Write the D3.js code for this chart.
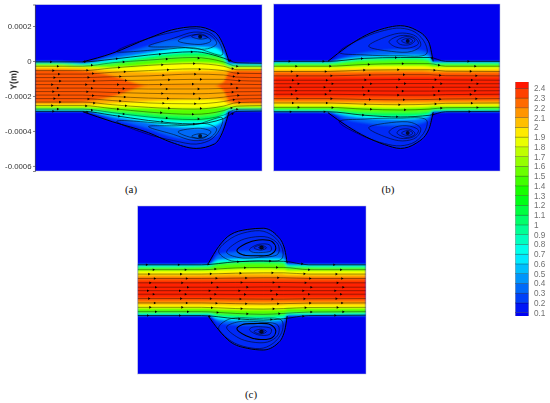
<!DOCTYPE html>
<html><head><meta charset="utf-8"><style>html,body{margin:0;background:#fff}svg{display:block}</style>
<script src="https://cdn.jsdelivr.net/npm/d3@7/dist/d3.min.js"></script></head><body>
<svg id="c" width="550" height="403"></svg>
<script>
// y values are in units of 1e-4 m; x values are in axial units across each panel (0-10)
const legendValues=[0.1,0.2,0.3,0.4,0.5,0.6,0.7,0.8,0.9,1,1.1,1.2,1.3,1.4,1.5,1.6,1.7,1.8,1.9,2,2.1,2.2,2.3,2.4];
const yTickValues=[2,0,-2,-4,-6];
const yTickLabels=["0.0002","0","-0.0002","-0.0004","-0.0006"];
const bandLevels=[0.35,0.7,1.1,1.5,1.9,2.1,2.3,2.42];

// Panel (a)
const aX=[0,1,2.1,3.4,5,6,7.1,7.9,8.3,8.55,9,10];
const aWallTop=[-.02,-.02,-.05,.44,1.3,1.77,1.96,1.67,.91,-.04,-.1,-.1];
const aWallBot=[-2.9,-2.9,-2.9,-3.47,-4.1,-4.65,-5,-4.75,-3.95,-2.9,-2.88,-2.88];
const aUpper=[
[-.04,-.04,-.08,.3,.85,1.2,1.3,1.2,.65,-.08,-.14,-.14],
[-.07,-.07,-.14,.1,.45,.7,.8,.75,.4,-.14,-.17,-.17],
[-.1,-.1,-.18,-.04,.26,.42,.48,.42,.18,-.2,-.22,-.22],
[-.16,-.16,-.24,-.18,.05,.2,.25,.2,0,-.28,-.28,-.28],
[-.28,-.28,-.34,-.38,-.25,-.15,-.1,-.15,-.25,-.38,-.38,-.38],
[-.38,-.38,-.42,-.55,-.62,-.58,-.55,-.55,-.55,-.48,-.46,-.46],
[-.5,-.5,-.55,-.85,-1.4,-1.4,-1.4,-1.4,-1.2,-.62,-.55,-.55],
[-1.4,-1.4,-1.4,-1.4,-1.4,-1.4,-1.4,-1.4,-1.4,-1.4,-1.4,-1.4]];
const aLower=[
[-2.88,-2.88,-2.88,-3.3,-3.85,-4.3,-4.5,-4.3,-3.6,-2.86,-2.85,-2.85],
[-2.86,-2.86,-2.86,-3.15,-3.52,-3.75,-3.82,-3.7,-3.35,-2.84,-2.82,-2.82],
[-2.82,-2.82,-2.82,-3.0,-3.25,-3.4,-3.45,-3.35,-3.05,-2.8,-2.78,-2.78],
[-2.76,-2.76,-2.76,-2.85,-3.0,-3.1,-3.15,-3.05,-2.85,-2.74,-2.74,-2.74],
[-2.62,-2.62,-2.62,-2.65,-2.68,-2.7,-2.72,-2.65,-2.6,-2.6,-2.6,-2.6],
[-2.5,-2.5,-2.5,-2.42,-2.3,-2.25,-2.2,-2.2,-2.28,-2.48,-2.5,-2.5],
[-2.38,-2.38,-2.35,-2.05,-1.45,-1.45,-1.45,-1.45,-1.7,-2.3,-2.4,-2.4],
[-1.4,-1.4,-1.4,-1.4,-1.4,-1.4,-1.4,-1.4,-1.4,-1.4,-1.4,-1.4]];
const aLineX=[0,2.1,3.4,5,7,8.3,8.9,10];
const aLines=[
[-.05,-.05,.1,.34,.53,.17,-.1,-.13],
[-.3,-.3,-.1,.05,.2,-.05,-.3,-.3],
[-.55,-.55,-.4,-.25,-.15,-.3,-.5,-.5],
[-.75,-.75,-.65,-.55,-.45,-.55,-.7,-.72],
[-.95,-.95,-.9,-.85,-.75,-.8,-.92,-.95],
[-1.15,-1.15,-1.12,-1.1,-1.05,-1.05,-1.12,-1.15],
[-1.35,-1.35,-1.35,-1.35,-1.32,-1.32,-1.33,-1.35],
[-1.55,-1.55,-1.57,-1.6,-1.6,-1.57,-1.55,-1.55],
[-1.75,-1.75,-1.8,-1.85,-1.88,-1.82,-1.76,-1.75],
[-1.95,-1.95,-2.03,-2.12,-2.17,-2.07,-1.97,-1.95],
[-2.15,-2.15,-2.26,-2.4,-2.45,-2.32,-2.18,-2.15],
[-2.35,-2.35,-2.5,-2.65,-2.75,-2.58,-2.38,-2.35],
[-2.55,-2.55,-2.72,-2.92,-3.05,-2.84,-2.58,-2.55],
[-2.75,-2.75,-2.95,-3.2,-3.35,-3.1,-2.76,-2.75],
[-2.88,-2.88,-3.1,-3.4,-3.6,-3.3,-2.88,-2.86]];
const aArrowX=[.7,2.2,3.6,5.5,6.9,8.6];
const aLoops=[
[[3.6,.55],[5,1.3],[6.1,1.65],[7.1,1.85],[7.8,1.55],[8.2,.85],[8.25,.35],[7,.75],[5.5,.65]],
[[5,.85],[6.1,1.3],[7,1.65],[7.7,1.5],[8,1],[7.6,.7],[6.3,.8]],
[[6.3,1.15],[7,1.5],[7.55,1.4],[7.75,1.15],[7.3,.95]],
[[6.9,1.4],[7.3,1.55],[7.6,1.35],[7.3,1.25]]];

// Panel (b)
const bX=[0,1.5,2.4,3.25,4.1,4.9,5.6,6.3,6.85,7.05,8.5,10];
const bWallTop=[-.02,-.02,-.02,.82,1.49,1.87,2.02,1.77,1.1,-.02,-.02,-.02];
const bWallBot=[-2.93,-2.93,-2.95,-3.72,-4.35,-4.78,-5,-4.7,-3.94,-2.93,-2.9,-2.9];
const bUpper=[
[-.03,-.03,-.04,.25,.48,.6,.65,.62,.45,-.03,-.03,-.03],
[-.05,-.05,-.06,.12,.25,.29,.31,.31,.25,-.06,-.05,-.05],
[-.1,-.1,-.1,.03,.13,.16,.18,.18,.1,-.1,-.1,-.1],
[-.18,-.18,-.18,-.08,0,.02,.03,.03,-.03,-.18,-.18,-.18],
[-.36,-.36,-.36,-.34,-.3,-.28,-.28,-.28,-.3,-.36,-.36,-.36],
[-.5,-.5,-.5,-.49,-.47,-.46,-.46,-.46,-.47,-.49,-.5,-.5],
[-.65,-.65,-.65,-.65,-.63,-.62,-.62,-.62,-.63,-.65,-.65,-.65],
[-.9,-.9,-.9,-.9,-.9,-.9,-.9,-.9,-.9,-.9,-.9,-.9]];
const bLower=[
[-2.92,-2.92,-2.93,-3.35,-3.55,-3.68,-3.7,-3.62,-3.35,-2.92,-2.9,-2.9],
[-2.9,-2.9,-2.9,-3.12,-3.26,-3.32,-3.34,-3.3,-3.15,-2.9,-2.88,-2.88],
[-2.86,-2.86,-2.86,-3.0,-3.12,-3.17,-3.18,-3.15,-3.05,-2.86,-2.84,-2.84],
[-2.78,-2.78,-2.78,-2.85,-2.92,-2.95,-2.95,-2.93,-2.88,-2.76,-2.75,-2.75],
[-2.6,-2.6,-2.6,-2.62,-2.65,-2.67,-2.67,-2.65,-2.62,-2.58,-2.58,-2.58],
[-2.45,-2.45,-2.45,-2.46,-2.47,-2.48,-2.48,-2.47,-2.46,-2.45,-2.45,-2.45],
[-2.28,-2.28,-2.28,-2.28,-2.29,-2.3,-2.3,-2.29,-2.28,-2.28,-2.28,-2.28],
[-2.05,-2.05,-2.05,-2.05,-2.05,-2.05,-2.05,-2.05,-2.05,-2.05,-2.05,-2.05]];
const bLineX=[0,2.4,4,5.6,6.9,7.6,10];
const bLines=[
[-.02,-.02,.15,.2,.2,-.02,-.02],
[-.3,-.3,-.2,-.15,-.15,-.3,-.3],
[-.6,-.6,-.52,-.5,-.5,-.58,-.6],
[-.85,-.85,-.8,-.78,-.78,-.84,-.85],
[-1.1,-1.1,-1.08,-1.06,-1.06,-1.08,-1.1],
[-1.3,-1.3,-1.3,-1.29,-1.29,-1.3,-1.3],
[-1.5,-1.5,-1.5,-1.5,-1.5,-1.5,-1.5],
[-1.7,-1.7,-1.71,-1.72,-1.72,-1.71,-1.7],
[-1.9,-1.9,-1.93,-1.95,-1.95,-1.92,-1.9],
[-2.15,-2.15,-2.2,-2.22,-2.2,-2.17,-2.15],
[-2.4,-2.4,-2.47,-2.5,-2.47,-2.42,-2.4],
[-2.65,-2.65,-2.75,-2.8,-2.75,-2.67,-2.65],
[-2.9,-2.9,-3.1,-3.2,-3.1,-2.9,-2.88]];
const bArrowX=[.7,2.2,3.9,5.4,7,8.6];
const bLoops=[
[[2.9,.5],[4,1.35],[4.9,1.75],[5.6,1.88],[6.25,1.65],[6.7,1],[6.75,.4],[5.5,.3],[4,.35]],
[[4.2,.85],[5,1.4],[5.7,1.6],[6.3,1.4],[6.5,.9],[6.1,.55],[5.2,.55]],
[[5.1,1.1],[5.6,1.45],[6.2,1.35],[6.4,1],[6,.75],[5.4,.8]],
[[5.45,1.15],[5.9,1.4],[6.25,1.2],[6.05,.95],[5.6,.95]],
[[5.65,1.15],[5.95,1.3],[6.15,1.15],[5.95,1]]];

// Panel (c)
const cX=[0,1.5,3.1,3.55,4.05,4.8,5.5,6.15,6.45,6.55,8,10];
const cWallTop=[.02,.02,.05,1.02,1.69,2,2.07,1.59,.83,.07,.02,.02];
const cWallBot=[-2.95,-2.95,-2.95,-3.74,-4.41,-4.79,-4.89,-4.5,-3.74,-2.95,-2.93,-2.93];
const cUpper=[
[0,0,.02,.55,.68,.75,.75,.7,.5,.03,0,0],
[-.02,-.02,0,.26,.3,.33,.33,.32,.26,0,-.02,-.02],
[-.1,-.1,-.08,.12,.15,.2,.2,.18,.12,-.08,-.1,-.1],
[-.2,-.2,-.18,-.05,.02,.05,.05,.02,-.02,-.18,-.2,-.2],
[-.38,-.38,-.36,-.32,-.3,-.28,-.28,-.3,-.32,-.36,-.38,-.38],
[-.58,-.58,-.56,-.54,-.52,-.52,-.52,-.52,-.54,-.56,-.58,-.58],
[-.75,-.75,-.75,-.75,-.73,-.73,-.73,-.73,-.75,-.75,-.75,-.75],
[-.95,-.95,-.95,-.95,-.95,-.95,-.95,-.95,-.95,-.95,-.95,-.95]];
const cLower=[
[-2.95,-2.95,-2.95,-3.3,-3.42,-3.48,-3.48,-3.42,-3.22,-2.95,-2.92,-2.92],
[-2.92,-2.92,-2.92,-3.12,-3.18,-3.22,-3.22,-3.18,-3.08,-2.92,-2.9,-2.9],
[-2.84,-2.84,-2.84,-2.98,-3.02,-3.05,-3.05,-3.02,-2.98,-2.84,-2.83,-2.83],
[-2.74,-2.74,-2.74,-2.82,-2.85,-2.88,-2.88,-2.85,-2.82,-2.74,-2.74,-2.74],
[-2.5,-2.5,-2.5,-2.54,-2.56,-2.58,-2.58,-2.56,-2.54,-2.5,-2.5,-2.5],
[-2.3,-2.3,-2.3,-2.32,-2.33,-2.33,-2.33,-2.33,-2.32,-2.3,-2.3,-2.3],
[-2.12,-2.12,-2.12,-2.12,-2.13,-2.13,-2.13,-2.13,-2.12,-2.12,-2.12,-2.12],
[-1.92,-1.92,-1.92,-1.92,-1.92,-1.92,-1.92,-1.92,-1.92,-1.92,-1.92,-1.92]];
const cLineX=[0,2.8,4.3,5.5,6.4,7.5,10];
const cLines=[
[-.02,-.02,.15,.2,.18,-.02,-.02],
[-.3,-.3,-.2,-.17,-.17,-.3,-.3],
[-.55,-.55,-.5,-.48,-.48,-.55,-.55],
[-.8,-.8,-.78,-.76,-.76,-.8,-.8],
[-1.05,-1.05,-1.03,-1.03,-1.03,-1.05,-1.05],
[-1.3,-1.3,-1.3,-1.29,-1.29,-1.3,-1.3],
[-1.5,-1.5,-1.5,-1.5,-1.5,-1.5,-1.5],
[-1.7,-1.7,-1.71,-1.71,-1.71,-1.7,-1.7],
[-1.95,-1.95,-1.97,-1.98,-1.98,-1.96,-1.95],
[-2.2,-2.2,-2.24,-2.26,-2.24,-2.21,-2.2],
[-2.45,-2.45,-2.52,-2.55,-2.52,-2.46,-2.45],
[-2.7,-2.7,-2.8,-2.85,-2.8,-2.72,-2.7],
[-2.92,-2.92,-3.1,-3.18,-3.1,-2.92,-2.9]];
const cArrowX=[.4,1.8,3.1,4.4,5.8,7.2,8.6];
const cLoops=[
[[3.55,.75],[4.1,1.5],[4.8,1.85],[5.5,1.9],[6.05,1.5],[6.35,.85],[6.3,.3],[5.2,.2],[4,.25]],
[[3.9,.7],[4.4,1.3],[5,1.55],[5.7,1.55],[6.15,1.15],[6.15,.6],[5.3,.4],[4.4,.4]],
[[4.35,.8],[4.75,1.2],[5.3,1.4],[5.9,1.3],[6.05,.9],[5.8,.55],[5.1,.5],[4.6,.55]],
[[4.9,.85],[5.3,1.15],[5.8,1.1],[5.85,.8],[5.4,.68],[5,.72]],
[[5.1,.95],[5.4,1.1],[5.65,.95],[5.4,.82]],
[[5.3,.97],[5.45,1.03],[5.55,.95],[5.4,.9]]];

const arrowDrift=[0,.3,.1,.35,.15,.4,.05,.3,.1,.35,.15,.4,.05,.3,.1];
const caption=["(a)","(b)","(c)"];

const color=d3.scaleLinear().domain([0.1,0.7,1.3,1.9,2.5])
  .range(["#0000f5","#00ffff","#00ff00","#ffff00","#ff0000"]);

const svg=d3.select("#c");
const defs=svg.append("defs");
const addBlur=(id,s)=>defs.append("filter").attr("id",id).attr("x","-5%").attr("y","-5%").attr("width","110%").attr("height","110%")
  .append("feGaussianBlur").attr("stdDeviation",s);
addBlur("fieldBlur",.9);addBlur("lineBlur",.35);addBlur("textBlur",.25);

function drawPanel(o,i){
  const W=o.px[1]-o.px[0],H=o.py[1]-o.py[0];
  const x=d3.scaleLinear().domain([0,10]).range(o.px);
  const y=d3.scaleLinear().domain(o.vd).range(o.py);
  defs.append("clipPath").attr("id","clip"+i).append("rect")
    .attr("x",o.px[0]).attr("y",o.py[0]).attr("width",W).attr("height",H);
  const g=svg.append("g").attr("clip-path",`url(#clip${i})`);
  g.append("rect").attr("x",o.px[0]).attr("y",o.py[0]).attr("width",W).attr("height",H).attr("fill","#0000f0");
  const field=g.append("g").attr("filter","url(#fieldBlur)");
  const area=d3.area().x((d,j)=>x(o.X[j])).y0(d=>y(d[1])).y1(d=>y(d[0])).curve(d3.curveMonotoneX);
  const zip=(a,b)=>a.map((v,j)=>[v,b[j]]);
  field.append("path").attr("d",area(zip(o.top,o.bot))).attr("fill",color(0.2));
  bandLevels.forEach((lv,k)=>field.append("path").attr("d",area(zip(o.up[k],o.lo[k]))).attr("fill",color(lv)));

  const lines=g.append("g").attr("filter","url(#lineBlur)").attr("fill","none").attr("stroke","#000");
  const line=d3.line().x((d,j)=>x(o.LX[j])).y(d=>y(d)).curve(d3.curveMonotoneX);
  o.lines.forEach((l,k)=>lines.append("path").attr("d",line(l))
    .attr("stroke-width",(k==0||k==o.lines.length-1)?.9:.5).attr("stroke-opacity",.8));
  const wall=d3.line().x((d,j)=>x(o.X[j+2])).y(d=>y(d)).curve(d3.curveMonotoneX);
  lines.append("path").attr("d",wall(o.top.slice(2,10))).attr("stroke-width",1);
  lines.append("path").attr("d",wall(o.bot.slice(2,10))).attr("stroke-width",1);
  const loop=d3.line().x(d=>x(d[0])).y(d=>y(d[1])).curve(d3.curveCatmullRomClosed);
  const mirror=o.mid*2;
  o.loops.forEach((l,k)=>{
    const w=o.thick===k?1.1:.55;
    lines.append("path").attr("d",loop(l)).attr("stroke-width",w);
    lines.append("path").attr("d",loop(l.map(p=>[p[0],mirror-p[1]]))).attr("stroke-width",w);
  });
  const last=o.loops[o.loops.length-1];
  const cx=d3.mean(last,p=>p[0]),cy=d3.mean(last,p=>p[1]);
  [cy,mirror-cy].forEach(v=>lines.append("circle").attr("cx",x(cx)).attr("cy",y(v)).attr("r",2).attr("fill","#000").attr("fill-opacity",.8).attr("stroke","none"));

  const arrow=d3.symbol().type(d3.symbolTriangle).size(3);
  o.lines.forEach((l,k)=>o.arrows.forEach(ax=>{
    const px=ax+arrowDrift[k];
    const b=Math.min(d3.bisectRight(o.LX,px),o.LX.length-1);
    const t=(px-o.LX[b-1])/(o.LX[b]-o.LX[b-1]);
    const v=l[b-1]+(l[b]-l[b-1])*t;
    lines.append("path").attr("d",arrow()).attr("fill","#000").attr("stroke","none")
      .attr("transform",`translate(${x(px)},${y(v)}) rotate(90)`);
  }));

  svg.append("rect").attr("x",o.px[0]).attr("y",o.py[0]).attr("width",W).attr("height",H)
    .attr("fill","none").attr("stroke","#b8bcd8").attr("stroke-width",.5);
  svg.append("text").text(caption[i]).attr("x",o.cap[0]).attr("y",o.cap[1]).attr("text-anchor","middle")
    .attr("font-family","Liberation Serif").attr("font-size",11).attr("fill","#111");
  return y;
}

const yA=drawPanel({px:[35,262],py:[4.5,171],vd:[3.23,-6.29],X:aX,top:aWallTop,bot:aWallBot,up:aUpper,lo:aLower,LX:aLineX,lines:aLines,arrows:aArrowX,loops:aLoops,mid:-1.45,cap:[131,193]},0);
drawPanel({px:[273.5,500],py:[4,171],vd:[3.26,-6.29],X:bX,top:bWallTop,bot:bWallBot,up:bUpper,lo:bLower,LX:bLineX,lines:bLines,arrows:bArrowX,loops:bLoops,mid:-1.485,cap:[388,193]},1);
drawPanel({px:[137.5,366],py:[206,374],vd:[3.34,-6.26],X:cX,top:cWallTop,bot:cWallBot,up:cUpper,lo:cLower,LX:cLineX,lines:cLines,arrows:cArrowX,loops:cLoops,mid:-1.44,thick:2,cap:[251,398]},2);

// Y axis of panel (a)
const axis=d3.axisLeft(yA).tickValues(yTickValues).tickSize(2).tickPadding(1.5).tickFormat((d,i)=>yTickLabels[i]);
const ag=svg.append("g").attr("transform","translate(35,0)").call(axis).attr("filter","url(#textBlur)");
ag.select(".domain").attr("stroke","#333").attr("stroke-width",.6);
ag.selectAll(".tick line").attr("stroke","#333").attr("stroke-width",.6);
ag.selectAll("text").attr("font-family","Liberation Sans").attr("font-size",7.8).attr("fill","#333");
svg.append("text").text("Y(m)").attr("transform","translate(16.5,80) rotate(-90)").attr("text-anchor","middle")
  .attr("font-family","Liberation Sans").attr("font-weight","bold").attr("font-size",8.8).attr("fill","#222").attr("filter","url(#textBlur)");

// Colour legend: bands lie between the tick levels, clipped to the bar's extent
const ly=d3.scaleLinear().domain([0.1,2.4]).range([312.7,88.3]);
defs.append("clipPath").attr("id","legendClip").append("rect").attr("x",515).attr("y",82).attr("width",14).attr("height",234);
const lg=svg.append("g").attr("filter","url(#textBlur)");
lg.append("g").attr("clip-path","url(#legendClip)").selectAll("rect").data([0,...legendValues]).join("rect")
  .attr("x",515.5).attr("width",13).attr("y",d=>ly(d+.1)).attr("height",d=>ly(d)-ly(d+.1))
  .attr("fill",d=>color(d+.05)).attr("stroke","#000").attr("stroke-opacity",.45).attr("stroke-width",.5);
lg.selectAll("text").data(legendValues).join("text").text(d=>d)
  .attr("x",534).attr("y",d=>ly(d)+3).attr("font-family","Liberation Sans").attr("font-size",8.2).attr("fill","#707070");
</script></body></html>
